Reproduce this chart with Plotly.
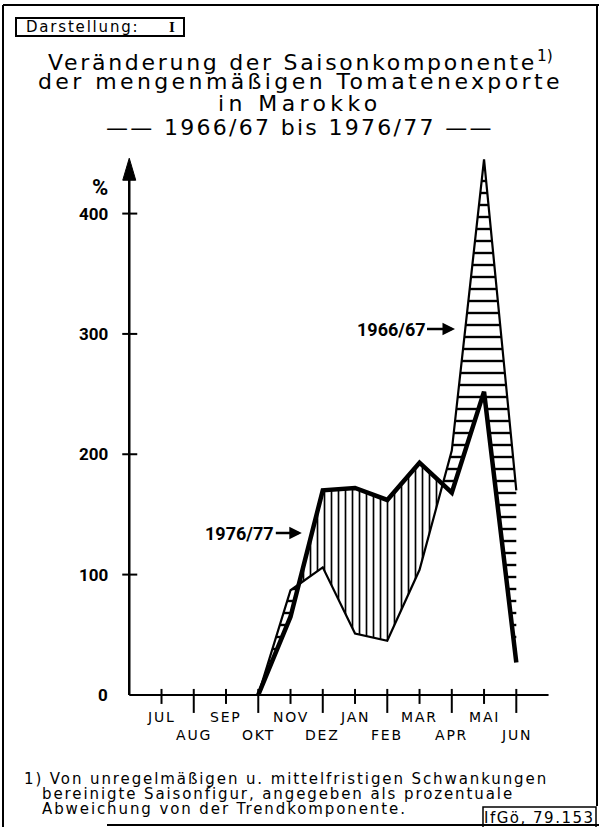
import numpy as np
import plotly.graph_objects as go

# ---------------- data ----------------
months = ["JUL", "AUG", "SEP", "OKT", "NOV", "DEZ", "JAN", "FEB", "MAR", "APR", "MAI", "JUN"]
s_1966_67 = [None, None, None, 0, 87, 106, 51, 45, 104, 203, 445, 170]
s_1976_77 = [None, None, None, 0, 65, 170, 172, 162, 193, 168, 252, 27]
y_tick_vals = [0, 100, 200, 300, 400]
y_tick_text = ["0", "100", "200", "300", "400"]

# ---------------- geometry helpers ----------------
W, H = 599, 827
ML, MT, PW, PH = 97, 151, 458, 568
X_RANGE = [-2, 12.2]
Y_RANGE = [-20, 452]


def PX(px):
    return (px - ML) / PW


def PY(py):
    return (MT + PH - py) / PH


def ls(text, sp):
    return f'<span style="letter-spacing:{sp}px">{text}</span>'


# ---------------- fill regions (crossing points derived from data) ----------------
idx = [i for i, v in enumerate(s_1966_67) if v is not None]
rx, r66, r76 = [], [], []
for k, i in enumerate(idx):
    a66, a76 = s_1966_67[i], s_1976_77[i]
    rx.append(i); r66.append(a66); r76.append(a76)
    if k + 1 < len(idx):
        j = idx[k + 1]
        b66, b76 = s_1966_67[j], s_1976_77[j]
        d0, d1 = a66 - a76, b66 - b76
        if d0 * d1 < 0:
            t = d0 / (d0 - d1)
            yc = a66 + t * (b66 - a66)
            rx.append(i + t * (j - i)); r66.append(yc); r76.append(yc)
r66 = np.array(r66, dtype=float)
r76 = np.array(r76, dtype=float)
hi = np.maximum(r66, r76)

fig = go.Figure()
fig.add_trace(go.Scatter(x=rx, y=r76, mode="lines", line=dict(width=0, color="black"),
                         hoverinfo="skip", showlegend=False))
fig.add_trace(go.Scatter(x=rx, y=hi, mode="lines", line=dict(width=0, color="black"),
                         fill="tonexty", fillcolor="white",
                         fillpattern=dict(shape="-", size=12, solidity=0.2, fgopacity=1,
                                          fgcolor="black", bgcolor="white"),
                         hoverinfo="skip", showlegend=False))
fig.add_trace(go.Scatter(x=rx, y=r66, mode="lines", line=dict(width=0, color="black"),
                         hoverinfo="skip", showlegend=False))
fig.add_trace(go.Scatter(x=rx, y=hi, mode="lines", line=dict(width=0, color="black"),
                         fill="tonexty", fillcolor="white",
                         fillpattern=dict(shape="|", size=7, solidity=0.24, fgopacity=1,
                                          fgcolor="black", bgcolor="white"),
                         hoverinfo="skip", showlegend=False))

xs = list(range(len(months)))
fig.add_trace(go.Scatter(x=xs, y=s_1966_67, mode="lines", name="1966/67",
                         line=dict(color="black", width=2.2), showlegend=False))
fig.add_trace(go.Scatter(x=xs, y=s_1976_77, mode="lines", name="1976/77",
                         line=dict(color="black", width=4.5), showlegend=False))

shapes = []
# x axis line
shapes.append(dict(type="line", xref="x", yref="y", x0=-1, x1=12, y0=0, y1=0,
                   line=dict(color="black", width=2)))
# y axis line
shapes.append(dict(type="line", xref="x", yref="y", x0=-1, x1=-1, y0=0, y1=430,
                   line=dict(color="black", width=2.5)))
# y axis arrow head
shapes.append(dict(type="path", xref="x", yref="y", xsizemode="pixel", ysizemode="pixel",
                   xanchor=-1, yanchor=446, path="M0,0 L-6.5,-22 L6.5,-22 Z",
                   fillcolor="black", line=dict(color="black", width=1)))
# y ticks
for v in y_tick_vals[1:]:
    shapes.append(dict(type="line", xref="x", yref="y", xsizemode="pixel", xanchor=-1,
                       x0=-7, x1=8, y0=v, y1=v, line=dict(color="black", width=2)))
# x ticks
for i, m in enumerate(months):
    down = -18 if i % 2 == 1 else -9
    shapes.append(dict(type="line", xref="x", yref="y", ysizemode="pixel", yanchor=0,
                       x0=i, x1=i, y0=6, y1=down, line=dict(color="black", width=2)))

# frame
for (x0, y0, x1, y1) in [(3, 5, 599, 5), (3, 5, 3, 827), (597, 5, 597, 806), (107, 825, 599, 825)]:
    shapes.append(dict(type="line", xref="paper", yref="paper", x0=PX(x0), x1=PX(x1),
                       y0=PY(y0), y1=PY(y1), line=dict(color="black", width=2)))
# Darstellung box
shapes.append(dict(type="rect", xref="paper", yref="paper", x0=PX(16), x1=PX(184),
                   y0=PY(18), y1=PY(36), line=dict(color="black", width=2)))
# IfGö box
shapes.append(dict(type="rect", xref="paper", yref="paper", x0=PX(483), x1=PX(596),
                   y0=PY(807), y1=PY(830), line=dict(color="black", width=1.5)))

annotations = []
SANS = "DejaVu Sans"
BOLD = "Roboto"


def text(t, px, py, size, family=SANS, xanchor="center", color="black"):
    annotations.append(dict(text=t, xref="paper", yref="paper", x=PX(px), y=PY(py),
                            xanchor=xanchor, yanchor="middle", showarrow=False,
                            font=dict(family=family, size=size, color=color)))


# Title
text(ls("Darstellung:", 1.8), 24, 27, 15, xanchor="left")
text("<b>I</b>", 172, 27, 15, family="Liberation Serif")
text(ls("Veränderung der Saisonkomponente", 2.7) + "<sup>1)</sup>", 300, 61, 22)
text(ls("der mengenmäßigen Tomatenexporte", 3.4), 300, 81, 22)
text(ls("in Marokko", 4.4), 300, 104, 22)
text(ls("—— 1966/67 bis 1976/77 ——", 2.3), 300, 127, 22)

# y tick labels
for v, t in zip(y_tick_vals, y_tick_text):
    annotations.append(dict(text=f"<b>{t}</b>", xref="x", yref="y", x=-1, y=v,
                            xanchor="right", yanchor="middle", xshift=-19, showarrow=False,
                            font=dict(family=BOLD, size=17, color="black")))
annotations.append(dict(text="<b>%</b>", xref="x", yref="y", x=-1, y=422,
                        xanchor="right", yanchor="middle", xshift=-19, showarrow=False,
                        font=dict(family=BOLD, size=22, color="black")))

# x month labels (two staggered rows)
for i, m in enumerate(months):
    shift = -40 if i % 2 == 1 else -22
    annotations.append(dict(text=ls(m, 1.8), xref="x", yref="y", x=i, y=0,
                            xanchor="center", yanchor="middle", yshift=shift, showarrow=False,
                            font=dict(family=SANS, size=14, color="black")))

# series labels with arrows
annotations.append(dict(text="<b>1976/77</b>", xref="x", yref="y", x=4.35, y=134.5,
                        ax=-62, ay=0, showarrow=True, arrowhead=2, arrowsize=1,
                        arrowwidth=2.5, arrowcolor="black",
                        font=dict(family=BOLD, size=18, color="black")))
annotations.append(dict(text="<b>1966/67</b>", xref="x", yref="y", x=9.1, y=304,
                        ax=-64, ay=0, showarrow=True, arrowhead=2, arrowsize=1,
                        arrowwidth=2.5, arrowcolor="black",
                        font=dict(family=BOLD, size=18, color="black")))

# footnote
text(ls("1) Von unregelmäßigen u. mittelfristigen Schwankungen", 1.9), 22, 779, 15, xanchor="left")
text(ls("bereinigte Saisonfigur, angegeben als prozentuale", 1.9), 40, 794, 15, xanchor="left")
text(ls("Abweichung von der Trendkomponente.", 1.9), 40, 809, 15, xanchor="left")
text(ls("IfGö, 79.153", 1.5), 539, 818, 15)

fig.update_layout(
    width=W, height=H,
    margin=dict(l=ML, r=W - ML - PW, t=MT, b=H - MT - PH, pad=0),
    paper_bgcolor="white", plot_bgcolor="white",
    xaxis=dict(range=X_RANGE, visible=False, fixedrange=True),
    yaxis=dict(range=Y_RANGE, visible=False, fixedrange=True),
    shapes=shapes, annotations=annotations, showlegend=False,
)

fig.write_html("out.html", config={"displayModeBar": False},
               post_script="document.body.style.margin='0';document.body.style.overflow='hidden';")
